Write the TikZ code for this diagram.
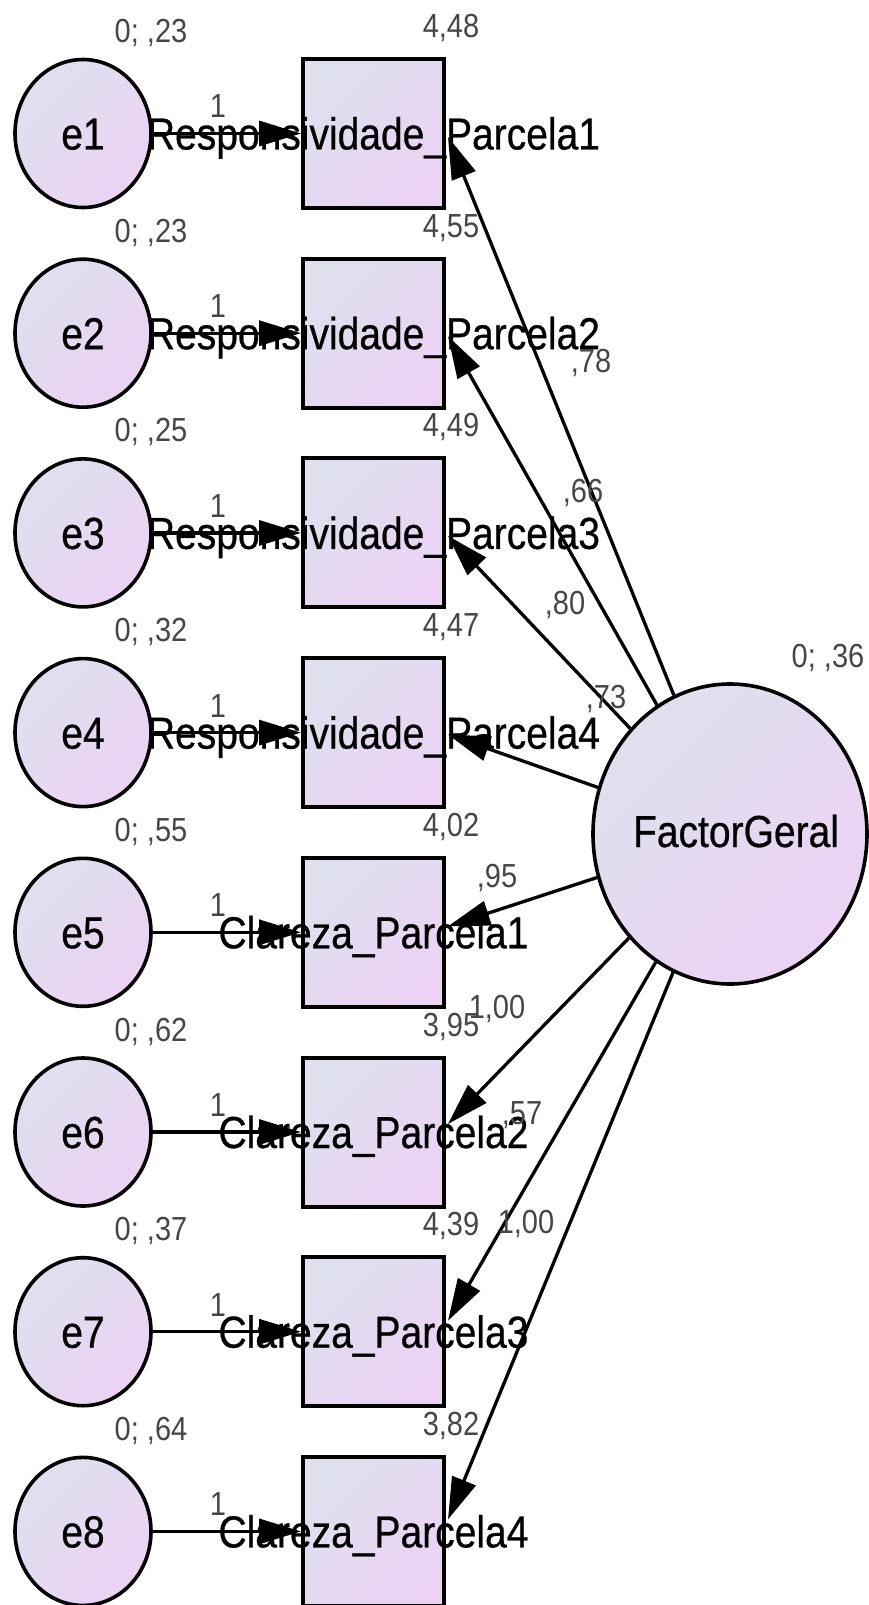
\documentclass[tikz,border=0pt]{standalone}
\usepackage{fontspec}
\usepackage{graphicx}
\setmainfont{Liberation Sans}
\newfontfamily\boldishfont[FakeBold=0.6]{Liberation Sans}
\usetikzlibrary{arrows.meta,shapes.geometric}
\definecolor{shadeA}{RGB}{222,224,238}
\definecolor{shadeB}{RGB}{236,210,244}
\definecolor{lblgray}{RGB}{70,70,70}
\newcommand{\tallw}[1]{\scalebox{1}[1.15]{#1}}
\begin{document}
\begin{tikzpicture}[x=1pt,y=-1pt,
  gshade/.style={left color=shadeA,right color=shadeB,shading angle=45},
  obs/.style={rectangle,draw,line width=4pt,gshade,minimum width=141pt,minimum height=149pt,inner sep=0pt},
  err/.style={ellipse,draw,line width=3.6pt,gshade,minimum width=136pt,minimum height=148pt,inner sep=0pt},
  lat/.style={ellipse,draw,line width=3.6pt,gshade,minimum width=274pt,minimum height=300pt,inner sep=0pt},
  reg/.style={line width=3.3pt,-{Triangle[length=42pt,width=25pt]}},
  big/.style={font=\boldishfont\fontsize{39}{40}\selectfont,inner sep=0pt,anchor=base},
  lbl/.style={font=\fontsize{29}{30}\selectfont,text=lblgray,inner sep=0pt}]
\useasboundingbox[fill=white] (0,0) rectangle (869,1605);

% latent factor
\node[lat] (F) at (730,834) {};

% observed indicators and their error terms
\foreach \i in {1,...,8} {
  \pgfmathsetmacro\yc{133.5+199.7*(\i-1)}
  \node[obs] (b\i) at (373.5,\yc) {};
  \node[err] (e\i) at (83,\yc) {};
}

% error paths
\foreach \i in {1,...,8} \draw[reg] (e\i) -- (b\i);

% factor loadings
\foreach \i/\dy in {1/3.5,2/3,3/3,4/2,5/-6,6/-8,7/-11,8/-12} {
  \path (b\i.east) ++(2,\dy) coordinate (p\i);
  \draw[reg] (F) -- (p\i);
}

% variable names
\foreach \i/\t in {1/Responsividade\_Parcela1,2/Responsividade\_Parcela2,
                   3/Responsividade\_Parcela3,4/Responsividade\_Parcela4,
                   5/Clareza\_Parcela1,6/Clareza\_Parcela2,
                   7/Clareza\_Parcela3,8/Clareza\_Parcela4} {
  \pgfmathsetmacro\yc{133.5+199.7*(\i-1)}
  \node[big] (n\i) at (373.5,\yc+16) {\tallw{\t}};
  \node[big] (en\i) at (83,\yc+16) {\tallw{e\i}};
}
\node[big] (fn) at (736,847) {\tallw{FactorGeral}};

% variances, intercepts and fixed weights
\foreach \i/\v/\m in {1/23/{4,48},2/23/{4,55},3/25/{4,49},4/32/{4,47},
                      5/55/{4,02},6/62/{3,95},7/37/{4,39},8/64/{3,82}} {
  \pgfmathsetmacro\yt{59+199.7*(\i-1)}
  \node[lbl] (v\i) at (151,\yt-26) {\tallw{0; ,\v}};
  \node[lbl] (m\i) at (451,\yt-31) {\tallw{\m}};
  \node[lbl] (w\i) at (218,\yt+47.5) {\tallw{1}};
}
\node[lbl] (vF) at (828,658) {\tallw{0; ,36}};

% loading estimates
\node[lbl] (l1) at (591,363) {\tallw{,78}};
\node[lbl] (l2) at (583,493) {\tallw{,66}};
\node[lbl] (l3) at (565,605) {\tallw{,80}};
\node[lbl] (l4) at (606,699) {\tallw{,73}};
\node[lbl] (l5) at (497,878) {\tallw{,95}};
\node[lbl] (l6) at (497,1009) {\tallw{1,00}};
\node[lbl] (l7) at (522,1115) {\tallw{,57}};
\node[lbl] (l8) at (526,1224) {\tallw{1,00}};
\end{tikzpicture}
\end{document}
